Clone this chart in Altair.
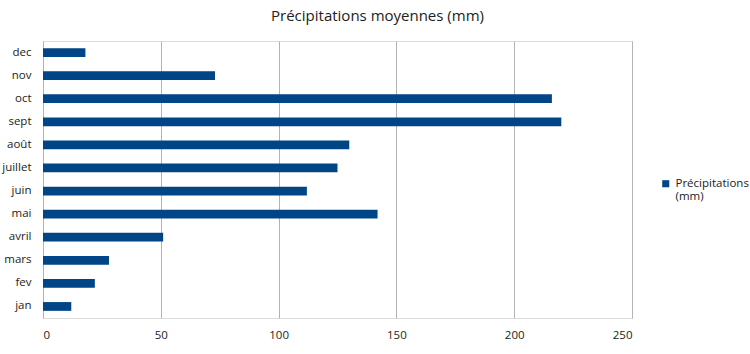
import altair as alt
import pandas as pd

months = ["jan", "fev", "mars", "avril", "mai", "juin", "juillet", "août", "sept", "oct", "nov", "dec"]
values = [12, 22, 28, 51, 142, 112, 125, 130, 220, 216, 73, 18]
series_name = "Précipitations (mm)"

df = pd.DataFrame({"mois": months, "valeur": values, "serie": [series_name] * len(months)})

FONT = "Open Sans"

chart = alt.Chart(df).mark_bar().encode(
    y=alt.Y("mois:N", sort=list(reversed(months)),
            scale=alt.Scale(paddingInner=0.62, paddingOuter=0.31),
            axis=alt.Axis(title=None, ticks=False, labelPadding=12, labelFontSize=11.5,
                          labelColor="#222222", domainColor="#b3b3b3", labelFont=FONT)),
    x=alt.X("valeur:Q", scale=alt.Scale(domain=[0, 250], nice=False),
            axis=alt.Axis(title=None, values=[0, 50, 100, 150, 200, 250], ticks=False,
                          labelPadding=11, labelFontSize=11.5, labelColor="#222222",
                          domain=False, gridColor="#b3b3b3", labelFont=FONT)),
    color=alt.Color("serie:N", scale=alt.Scale(domain=[series_name], range=["#004586"]),
                    legend=alt.Legend(title=None, orient="none", legendX=617, legendY=137,
                                      symbolType="square", symbolSize=50, symbolStrokeWidth=0,
                                      labelFontSize=11.5, labelColor="#222222", labelFont=FONT,
                                      labelExpr="split(datum.label, ' ')", labelOffset=4,
                                      labelLimit=200)),
).properties(
    width=589,
    height=277,
    title=alt.TitleParams("Précipitations moyennes (mm)", fontSize=15, fontWeight="normal",
                          font=FONT, color="#222222", offset=17, dx=40),
    autosize=alt.AutoSizeParams(type="none"),
    padding={"left": 43, "top": 41, "right": 118, "bottom": 36},
).configure_view(stroke="#b3b3b3").configure(background="white")

chart.save("out.html", embed_options={"renderer": "svg", "actions": False})
